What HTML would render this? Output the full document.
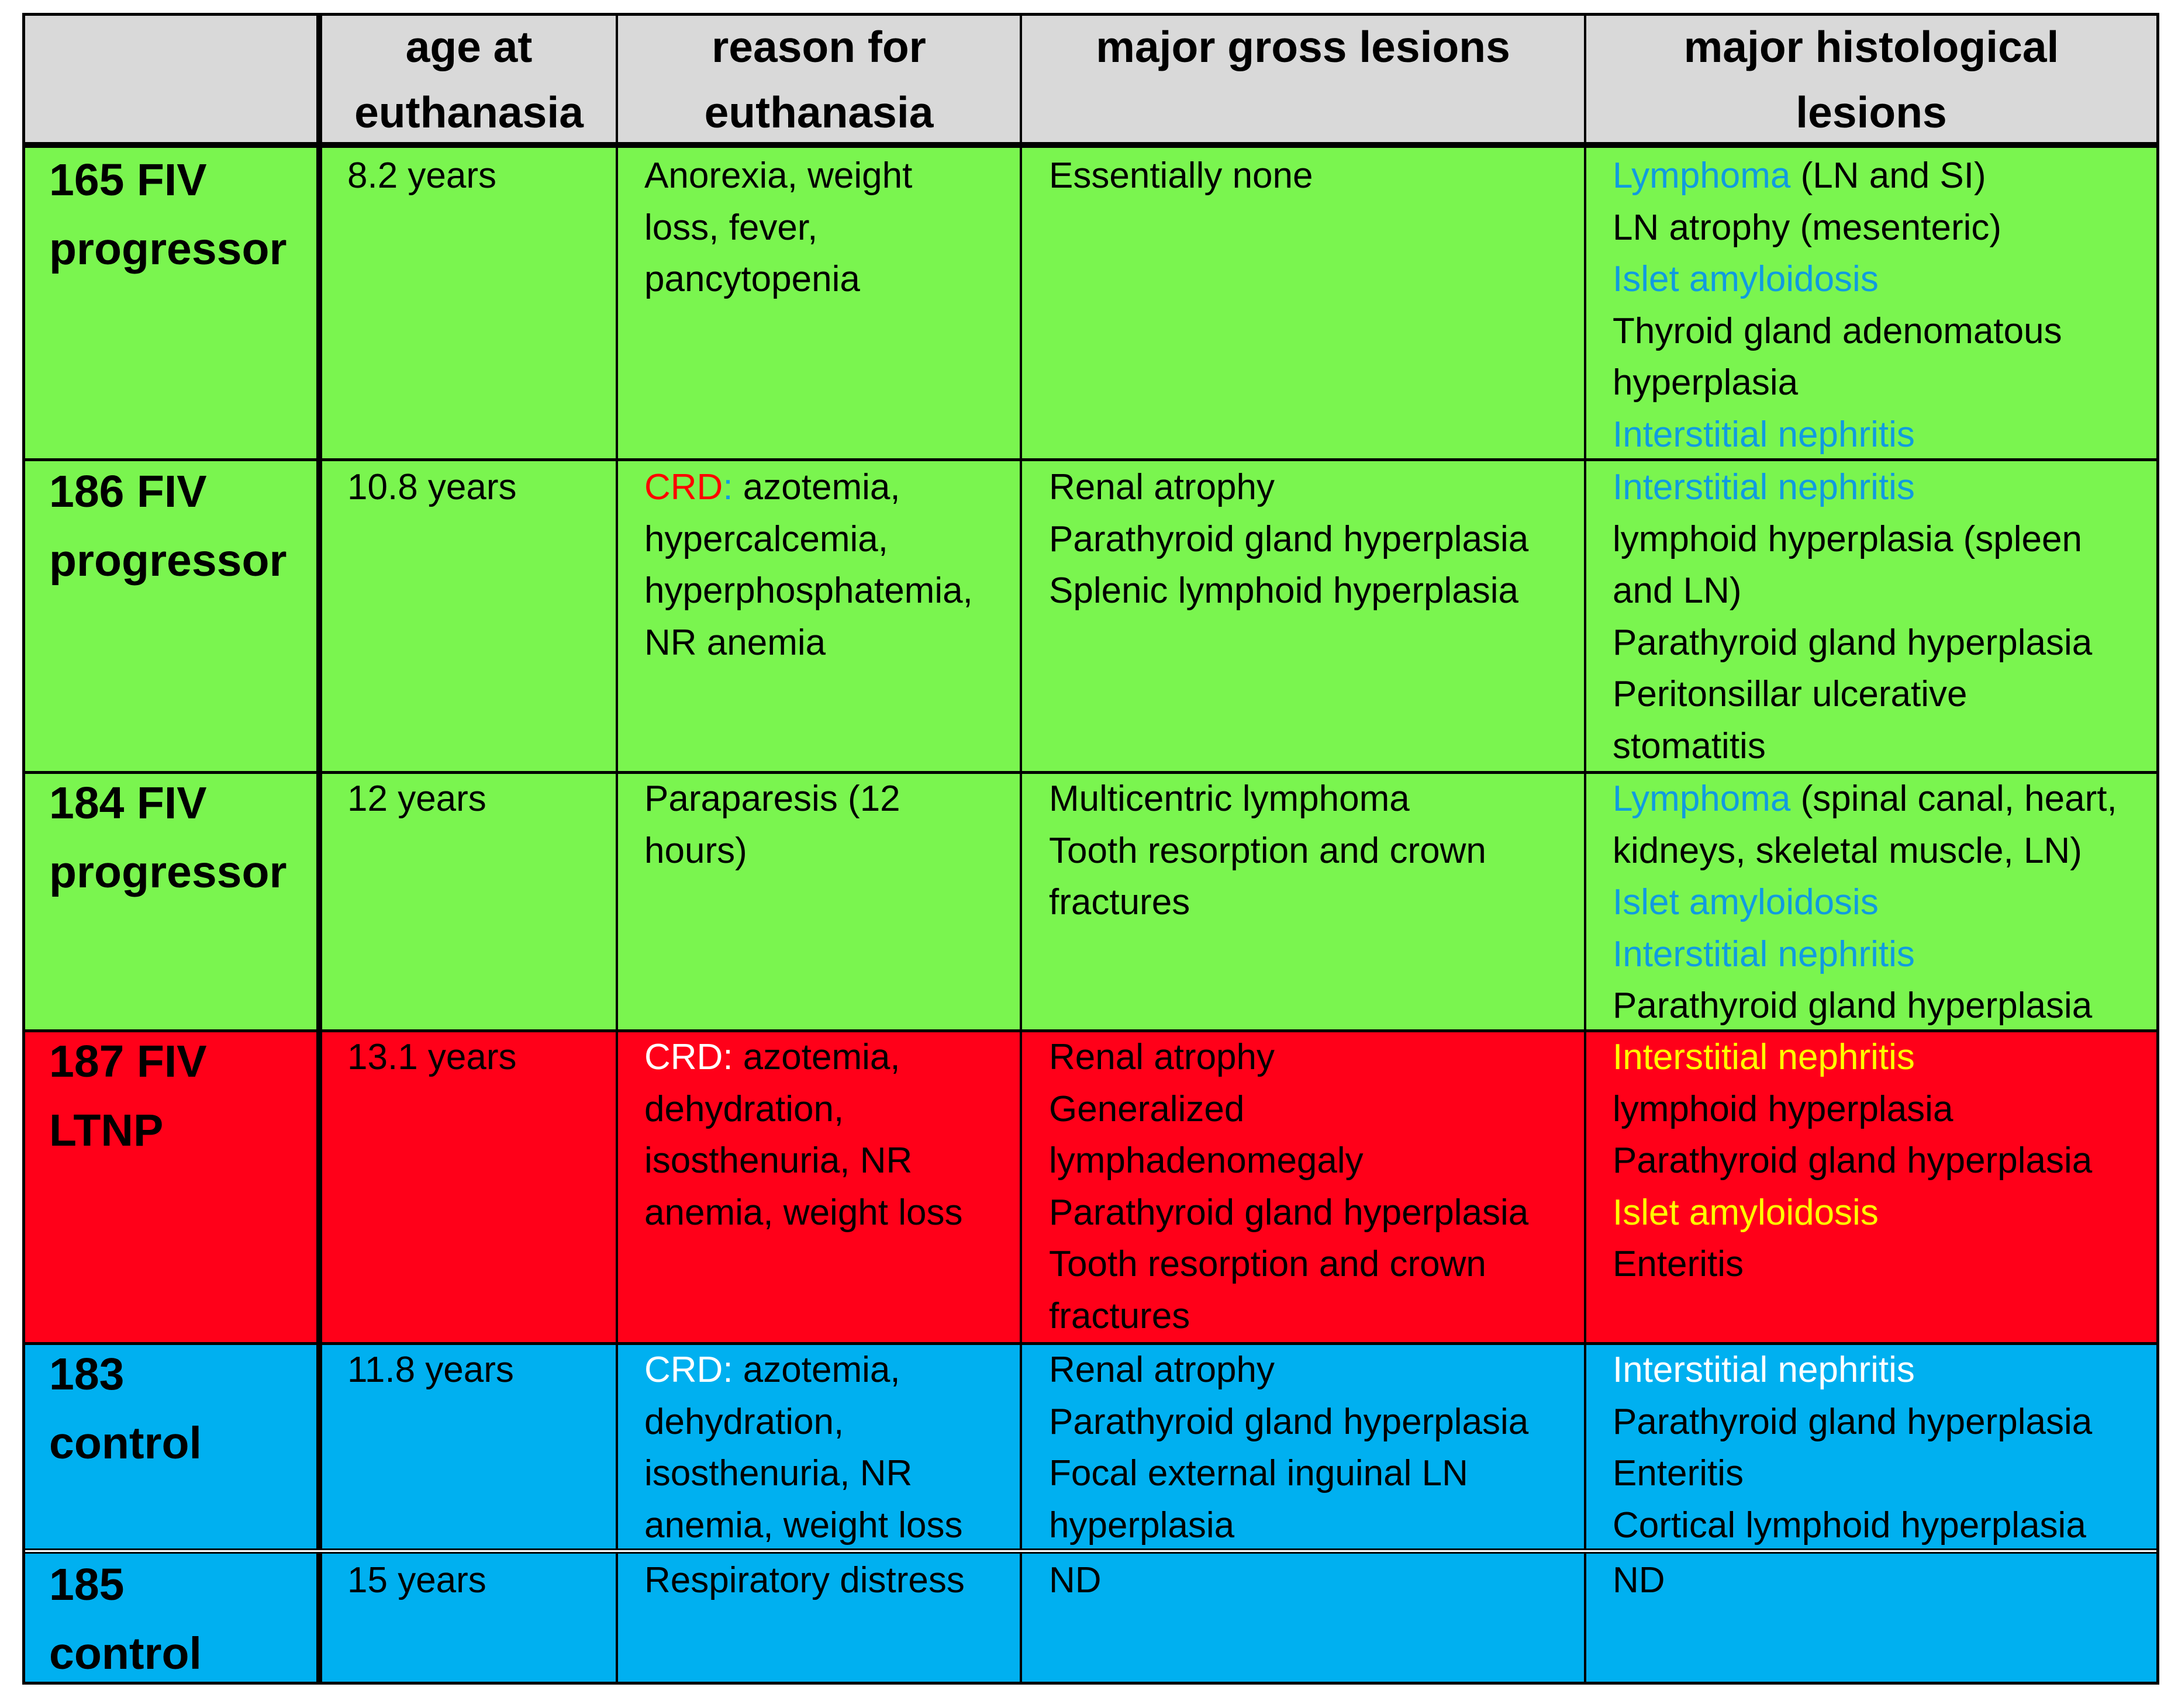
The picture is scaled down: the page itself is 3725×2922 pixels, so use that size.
<!DOCTYPE html>
<html><head><meta charset="utf-8">
<style>
html,body{margin:0;padding:0;background:#fff;}
body{width:3725px;height:2922px;position:relative;overflow:hidden;font-family:"Liberation Sans",sans-serif;}
.bg{position:absolute;}
.ln{position:absolute;background:#000;}
.t{position:absolute;font-size:62px;line-height:88.5px;white-space:nowrap;color:#000;}
.h{position:absolute;font-size:75px;line-height:112px;font-weight:bold;text-align:center;white-space:nowrap;}
.lab{position:absolute;font-size:77px;line-height:118px;font-weight:bold;white-space:nowrap;}
.b{color:#109be0}.r{color:#ff0000}.w{color:#fff}.y{color:#ffff00}
</style></head><body>
<div class="bg" style="left:40px;top:24px;width:3650px;height:223px;background:#d9d9d9"></div>
<div class="bg" style="left:40px;top:247px;width:3650px;height:539px;background:#7af54f"></div>
<div class="bg" style="left:40px;top:786px;width:3650px;height:535px;background:#7af54f"></div>
<div class="bg" style="left:40px;top:1321px;width:3650px;height:442px;background:#7af54f"></div>
<div class="bg" style="left:40px;top:1763px;width:3650px;height:535px;background:#ff0019"></div>
<div class="bg" style="left:40px;top:2298px;width:3650px;height:356px;background:#00b0f0"></div>
<div class="bg" style="left:40px;top:2654px;width:3650px;height:226px;background:#00b0f0"></div>

<div class="ln" style="left:38px;top:22px;width:3655px;height:5px"></div>
<div class="ln" style="left:38px;top:2877px;width:3655px;height:5px"></div>
<div class="ln" style="left:38px;top:22px;width:5px;height:2860px"></div>
<div class="ln" style="left:3688px;top:22px;width:5px;height:2860px"></div>
<div class="ln" style="left:38px;top:243px;width:3655px;height:10px"></div>
<div class="ln" style="left:541px;top:22px;width:10px;height:2860px"></div>
<div class="ln" style="left:1053px;top:22px;width:4px;height:2860px"></div>
<div class="ln" style="left:1744px;top:22px;width:4px;height:2860px"></div>
<div class="ln" style="left:2709px;top:22px;width:4px;height:2860px"></div>
<div class="ln" style="left:38px;top:784px;width:3655px;height:5px"></div>
<div class="ln" style="left:38px;top:1319px;width:3655px;height:5px"></div>
<div class="ln" style="left:38px;top:1761px;width:3655px;height:5px"></div>
<div class="ln" style="left:38px;top:2296px;width:3655px;height:5px"></div>
<div class="ln" style="left:38px;top:2649px;width:3655px;height:3px"></div>
<div class="bg" style="left:43px;top:2652px;width:3645px;height:3px;background:#fff"></div>
<div class="ln" style="left:38px;top:2655px;width:3655px;height:3px"></div>

<div class="h" style="left:551px;top:24px;width:502px;height:223px;display:flex;flex-direction:column;justify-content:center">age at<br>euthanasia</div>
<div class="h" style="left:1057px;top:24px;width:687px;height:223px;display:flex;flex-direction:column;justify-content:center">reason for<br>euthanasia</div>
<div class="h" style="left:1748px;top:24px;width:961px;height:112px">major gross lesions</div>
<div class="h" style="left:2713px;top:24px;width:975px;height:223px;display:flex;flex-direction:column;justify-content:center">major histological<br>lesions</div>

<div class="lab" style="left:84px;top:249px">165 FIV<br>progressor</div>
<div class="t" style="left:594px;top:257px">8.2 years</div>
<div class="t" style="left:1102px;top:257px">Anorexia, weight<br>loss, fever,<br>pancytopenia</div>
<div class="t" style="left:1794px;top:257px">Essentially none</div>
<div class="t" style="left:2758px;top:257px"><span class="b">Lymphoma</span> (LN and SI)<br>LN atrophy (mesenteric)<br><span class="b">Islet amyloidosis</span><br>Thyroid gland adenomatous<br>hyperplasia<br><span class="b">Interstitial nephritis</span></div>

<div class="lab" style="left:84px;top:782px">186 FIV<br>progressor</div>
<div class="t" style="left:594px;top:790px">10.8 years</div>
<div class="t" style="left:1102px;top:790px"><span class="r">CRD</span><span class="b">:</span> azotemia,<br>hypercalcemia,<br>hyperphosphatemia,<br>NR anemia</div>
<div class="t" style="left:1794px;top:790px">Renal atrophy<br>Parathyroid gland hyperplasia<br>Splenic lymphoid hyperplasia</div>
<div class="t" style="left:2758px;top:790px"><span class="b">Interstitial nephritis</span><br>lymphoid hyperplasia (spleen<br>and LN)<br>Parathyroid gland hyperplasia<br>Peritonsillar ulcerative<br>stomatitis</div>

<div class="lab" style="left:84px;top:1315px">184 FIV<br>progressor</div>
<div class="t" style="left:594px;top:1323px">12 years</div>
<div class="t" style="left:1102px;top:1323px">Paraparesis (12<br>hours)</div>
<div class="t" style="left:1794px;top:1323px">Multicentric lymphoma<br>Tooth resorption and crown<br>fractures</div>
<div class="t" style="left:2758px;top:1323px"><span class="b">Lymphoma</span> (spinal canal, heart,<br>kidneys, skeletal muscle, LN)<br><span class="b">Islet amyloidosis</span><br><span class="b">Interstitial nephritis</span><br>Parathyroid gland hyperplasia</div>

<div class="lab" style="left:84px;top:1757px">187 FIV<br>LTNP</div>
<div class="t" style="left:594px;top:1765px">13.1 years</div>
<div class="t" style="left:1102px;top:1765px"><span class="w">CRD:</span> azotemia,<br>dehydration,<br>isosthenuria, NR<br>anemia, weight loss</div>
<div class="t" style="left:1794px;top:1765px">Renal atrophy<br>Generalized<br>lymphadenomegaly<br>Parathyroid gland hyperplasia<br>Tooth resorption and crown<br>fractures</div>
<div class="t" style="left:2758px;top:1765px"><span class="y">Interstitial nephritis</span><br>lymphoid hyperplasia<br>Parathyroid gland hyperplasia<br><span class="y">Islet amyloidosis</span><br>Enteritis</div>

<div class="lab" style="left:84px;top:2292px">183<br>control</div>
<div class="t" style="left:594px;top:2300px">11.8 years</div>
<div class="t" style="left:1102px;top:2300px"><span class="w">CRD:</span> azotemia,<br>dehydration,<br>isosthenuria, NR<br>anemia, weight loss</div>
<div class="t" style="left:1794px;top:2300px">Renal atrophy<br>Parathyroid gland hyperplasia<br>Focal external inguinal LN<br>hyperplasia</div>
<div class="t" style="left:2758px;top:2300px"><span class="w">Interstitial nephritis</span><br>Parathyroid gland hyperplasia<br>Enteritis<br>Cortical lymphoid hyperplasia</div>

<div class="lab" style="left:84px;top:2652px">185<br>control</div>
<div class="t" style="left:594px;top:2660px">15 years</div>
<div class="t" style="left:1102px;top:2660px">Respiratory distress</div>
<div class="t" style="left:1794px;top:2660px">ND</div>
<div class="t" style="left:2758px;top:2660px">ND</div>
</body></html>
